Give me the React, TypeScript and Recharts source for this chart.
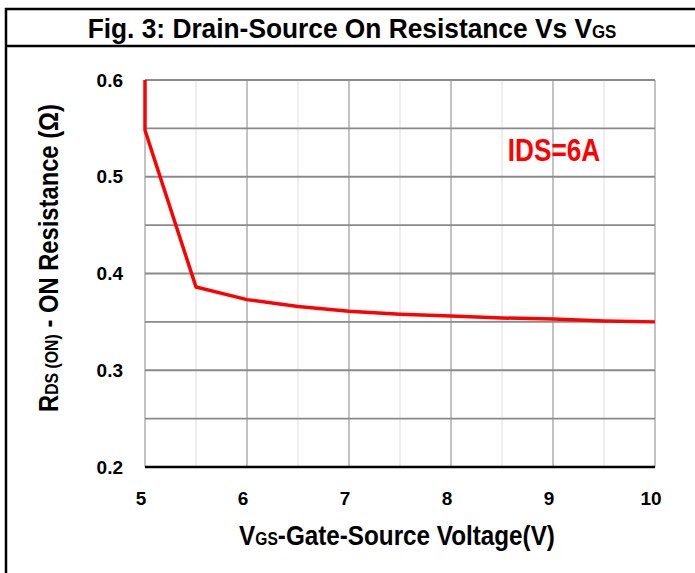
import React from 'react';
import { LineChart, Line, XAxis, YAxis, ReferenceLine } from 'recharts';

// Gate voltage (V) and on-resistance (ohm)
const vgs = [5, 5, 5.5, 6, 6.5, 7, 7.5, 8, 8.5, 9, 9.5, 10];
const rdsOn = [0.6, 0.548, 0.386, 0.373, 0.366, 0.361, 0.358, 0.356, 0.354, 0.353, 0.351, 0.35];

const xTicks = [5, 6, 7, 8, 9, 10];
const yTicks = [0.2, 0.3, 0.4, 0.5, 0.6];
const xMinorGrid = [5.5, 6.5, 7.5, 8.5, 9.5];
const xMajorGrid = [5, 6, 7, 8, 9, 10];
const yGrid = [0.25, 0.3, 0.35, 0.4, 0.45, 0.5, 0.55, 0.6];

const data = vgs.map((v, i) => ({ vgs: v, rds: rdsOn[i] }));

const FONT = "'Liberation Sans', Arial, sans-serif";
const W = 695;
const H = 573;

// narrow-looking bold text: regular Liberation Sans squeezed sideways
const Squeezed = ({ x, y, sx, rotate = 0, size, fill = '#000', children }: any) => (
  <g transform={`translate(${x},${y}) rotate(${rotate}) scale(${sx},1)`}>
    <text x={0} y={0} textAnchor="middle" fontFamily={FONT} fontWeight={700} fontSize={size} fill={fill}>
      {children}
    </text>
  </g>
);

const App = () => {
  return (
    <div style={{ position: 'absolute', left: 0, top: 0, width: W, height: H, background: '#fff', fontFamily: FONT }}>
      <LineChart
        width={W}
        height={H}
        data={data}
        margin={{ top: 80, right: 40, bottom: 0, left: 0 }}
      >
        <XAxis
          type="number"
          dataKey="vgs"
          domain={[5, 10]}
          ticks={xTicks}
          height={106}
          tickLine={false}
          axisLine={false}
          tickSize={0}
          tickMargin={25}
          tick={{ fill: '#000', fontSize: 19, fontWeight: 700, fontFamily: FONT, dx: -4 }}
        />
        <YAxis
          type="number"
          domain={[0.2, 0.6]}
          ticks={yTicks}
          width={145}
          tickLine={false}
          axisLine={false}
          tickSize={0}
          tickMargin={22}
          tickFormatter={(v: number) => v.toFixed(1)}
          tick={{ fill: '#000', fontSize: 19, fontWeight: 700, fontFamily: FONT }}
        />
        {xMinorGrid.map((v) => (
          <ReferenceLine key={'xm' + v} x={v} stroke="#e3e3e3" strokeWidth={1.2} />
        ))}
        {xMajorGrid.map((v) => (
          <ReferenceLine key={'xM' + v} x={v} stroke="#bdbdbd" strokeWidth={1.8} />
        ))}
        {yGrid.map((v) => (
          <ReferenceLine key={'y' + v} y={v} stroke="#8a8a8a" strokeWidth={1.8} />
        ))}
        <ReferenceLine y={0.2} stroke="#000" strokeWidth={2.5} />
        <Line
          type="linear"
          dataKey="rds"
          stroke="#ff0000"
          strokeWidth={3.5}
          dot={false}
          isAnimationActive={false}
        />
      </LineChart>
      <svg width={W} height={H} style={{ position: 'absolute', left: 0, top: 0, pointerEvents: 'none' }}>
        <line x1={6} y1={8} x2={6} y2={H + 5} stroke="#000" strokeWidth={2.5} />
        <line x1={5} y1={9} x2={W} y2={9} stroke="#000" strokeWidth={2.5} />
        <line x1={5} y1={46} x2={W} y2={46} stroke="#000" strokeWidth={2.5} />
        <Squeezed x={352} y={38} sx={0.94} size={28}>
          Fig. 3: Drain-Source On Resistance Vs V<tspan fontSize={18}>GS</tspan>
        </Squeezed>
        <Squeezed x={397} y={545} sx={0.866} size={28}>
          V<tspan fontSize={18}>GS</tspan>-Gate-Source Voltage(V)
        </Squeezed>
        <Squeezed x={58} y={258} rotate={-90} sx={0.88} size={27}>
          R<tspan fontSize={18}>DS (ON)</tspan> - ON Resistance (Ω)
        </Squeezed>
        <Squeezed x={554} y={161} sx={0.845} size={31} fill="#ff0000">
          IDS=6A
        </Squeezed>
      </svg>
    </div>
  );
};

export default App;
